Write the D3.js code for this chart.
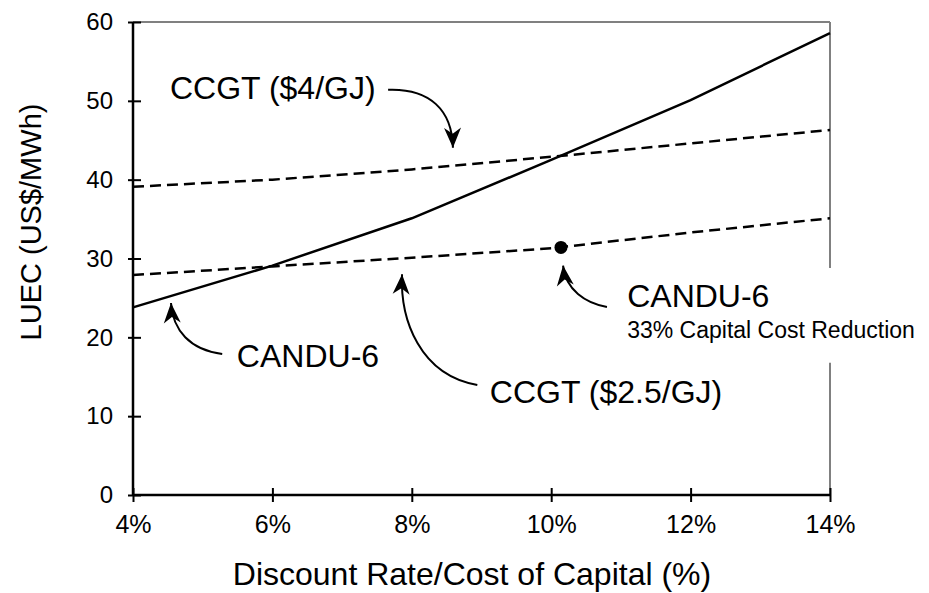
<!DOCTYPE html>
<html>
<head>
<meta charset="utf-8">
<script src="https://cdn.jsdelivr.net/npm/d3@7"></script>
<style>
  html, body { margin: 0; padding: 0; background: #fff; }
  svg text { font-family: "Liberation Sans", Arial, Helvetica, sans-serif; fill: #000; }
</style>
</head>
<body>
<svg id="chart" width="929" height="593"></svg>
<script>
// ---- Data ----
const rates = [4, 6, 8, 10, 12, 14];                 // discount rate (%)
const candu6 = [23.8, 29.1, 35.1, 42.5, 50.1, 58.6];  // CANDU-6 LUEC
const ccgt4 = [39.1, 40.0, 41.3, 42.9, 44.6, 46.3];   // CCGT ($4/GJ)
const ccgt25 = [27.9, 29.0, 30.1, 31.3, 33.3, 35.1];  // CCGT ($2.5/GJ)
const reducedRate = [10.14];                         // CANDU-6, 33% capital cost reduction
const reducedValue = [31.4];
const xTickValues = [4, 6, 8, 10, 12, 14];
const yTickValues = [0, 10, 20, 30, 40, 50, 60];
const xTitle = "Discount Rate/Cost of Capital (%)";
const yTitle = "LUEC (US$/MWh)";

// annotation texts (anchor in data coords)
const labelTexts = ["CCGT ($4/GJ)", "CANDU-6", "CCGT ($2.5/GJ)", "CANDU-6", "33% Capital Cost Reduction"];
const labelX = [4.53, 5.49, 9.12, 11.09, 11.09];
const labelY = [50.2, 16.25, 11.7, 23.85, 19.95];
const labelSize = [32, 32, 32, 32, 23];

// annotation arrows: start, control1, control2, tip (data coords)
const arrowPts = [
  [[7.66, 51.4], [8.26, 51.6], [8.58, 48.8], [8.59, 44.05]],
  [[5.28, 17.9], [4.82, 18.4], [4.57, 20.9], [4.545, 24.35]],
  [[8.94, 13.95], [8.12, 15.2], [7.83, 22.2], [7.86, 28.0]],
  [[10.80, 23.85], [10.49, 24.35], [10.21, 26.0], [10.17, 29.1]]
];

// ---- Layout ----
const svg = d3.select("#chart");
const x = d3.scaleLinear().domain([4, 14]).range([133, 830]);
const y = d3.scaleLinear().domain([0, 60]).range([495, 22]);

// defs: arrowhead
svg.append("defs").append("marker")
  .attr("id", "head")
  .attr("markerUnits", "userSpaceOnUse")
  .attr("viewBox", "-21 -10 22 20")
  .attr("refX", 0).attr("refY", 0)
  .attr("markerWidth", 22).attr("markerHeight", 20)
  .attr("orient", "auto")
  .append("path")
  .attr("d", "M0,0 L-20,-8.5 L-14,0 L-20,8.5 Z")
  .attr("fill", "#000");

// frame top/right (gray)
svg.append("line")
  .attr("x1", x(4)).attr("x2", x(14)).attr("y1", y(60)).attr("y2", y(60))
  .attr("stroke", "#808080").attr("stroke-width", 2);
svg.append("line")
  .attr("x1", x(14)).attr("x2", x(14)).attr("y1", y(60)).attr("y2", y(0))
  .attr("stroke", "#808080").attr("stroke-width", 2);

// series lines
const lineGen = d3.line().x(d => x(d[0])).y(d => y(d[1]));
const seriesList = [
  { vals: ccgt4, dash: "11,6" },
  { vals: ccgt25, dash: "11,6" },
  { vals: candu6, dash: null }
];
seriesList.forEach(s => {
  svg.append("path")
    .datum(rates.map((r, i) => [r, s.vals[i]]))
    .attr("d", lineGen)
    .attr("fill", "none")
    .attr("stroke", "#000")
    .attr("stroke-width", 2.5)
    .attr("stroke-dasharray", s.dash);
});

// point
svg.selectAll("circle.pt")
  .data(reducedRate.map((r, i) => [r, reducedValue[i]]))
  .join("circle")
  .attr("class", "pt")
  .attr("cx", d => x(d[0])).attr("cy", d => y(d[1]))
  .attr("r", 6.5).attr("fill", "#000");

// axes
const yAxis = svg.append("g")
  .attr("transform", `translate(${x(4)},0)`)
  .call(d3.axisLeft(y).tickValues(yTickValues).tickSize(5).tickPadding(15).tickFormat(d3.format("d")));
yAxis.select(".domain").attr("stroke", "#000").attr("stroke-width", 2.5).attr("d", `M0,${y(60)}V${y(0)}`);
yAxis.selectAll(".tick line").attr("x1", 8).attr("x2", -5).attr("stroke", "#000").attr("stroke-width", 2);
yAxis.selectAll(".tick text").attr("font-size", 24).attr("font-family", "Liberation Sans, Arial, sans-serif");

const xAxis = svg.append("g")
  .attr("transform", `translate(0,${y(0)})`)
  .call(d3.axisBottom(x).tickValues(xTickValues).tickSize(7).tickPadding(13).tickFormat(d => d + "%"));
xAxis.select(".domain").attr("stroke", "#000").attr("stroke-width", 2.5).attr("d", `M${x(4)},0H${x(14)}`);
xAxis.selectAll(".tick line").attr("y1", -7).attr("y2", 7).attr("stroke", "#000").attr("stroke-width", 2);
xAxis.selectAll(".tick text").attr("font-size", 25).attr("font-family", "Liberation Sans, Arial, sans-serif");

// axis titles
svg.append("text")
  .attr("x", 472).attr("y", 585)
  .attr("text-anchor", "middle")
  .attr("font-size", 32)
  .text(xTitle);
svg.append("text")
  .attr("transform", `translate(41,222) rotate(-90)`)
  .attr("text-anchor", "middle")
  .attr("font-size", 29)
  .text(yTitle);

// white box behind right-side label group
const boxG = svg.append("g");
const labelsG = svg.append("g");
labelTexts.forEach((t, i) => {
  labelsG.append("text")
    .attr("class", "lbl" + i)
    .attr("x", x(labelX[i])).attr("y", y(labelY[i]))
    .attr("font-size", labelSize[i])
    .text(t);
});
// box behind the right "CANDU-6 / 33% ..." labels
const b1 = labelsG.select(".lbl3").node().getBBox();
const b2 = labelsG.select(".lbl4").node().getBBox();
const bx0 = Math.min(b1.x, b2.x) - 6, by0 = b1.y - 10;
const bx1 = Math.max(b1.x + b1.width, b2.x + b2.width) + 6, by1 = b2.y + b2.height + 20;
boxG.append("rect")
  .attr("x", bx0).attr("y", by0).attr("width", bx1 - bx0).attr("height", by1 - by0)
  .attr("fill", "#fff");

// arrows
arrowPts.forEach(p => {
  const P = p.map(d => [x(d[0]), y(d[1])]);
  svg.append("path")
    .attr("d", `M${P[0][0]},${P[0][1]} C${P[1][0]},${P[1][1]} ${P[2][0]},${P[2][1]} ${P[3][0]},${P[3][1]}`)
    .attr("fill", "none")
    .attr("stroke", "#000")
    .attr("stroke-width", 2)
    .attr("marker-end", "url(#head)");
});
</script>
</body>
</html>
